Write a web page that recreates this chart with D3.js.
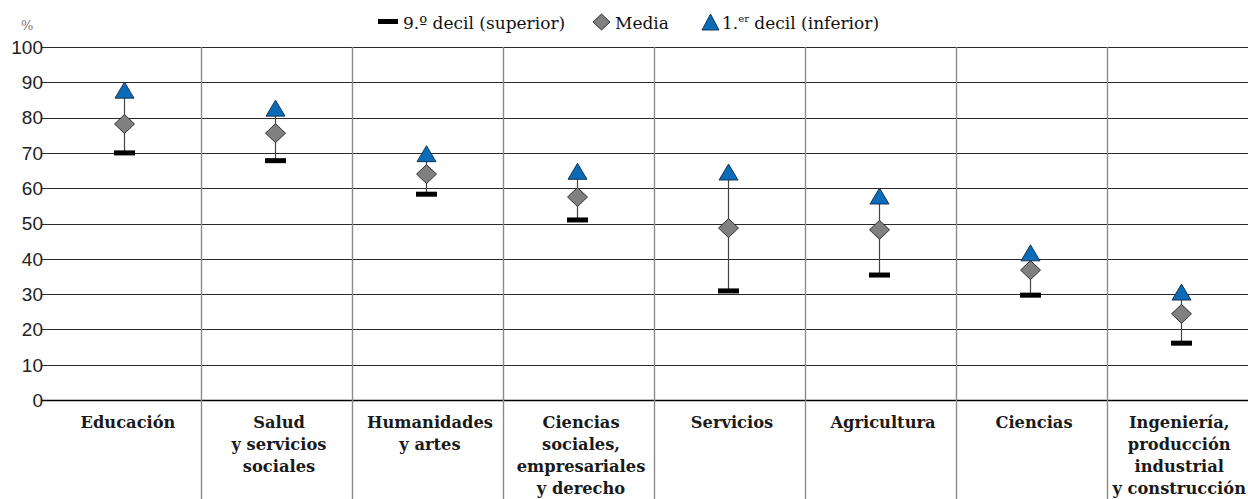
<!DOCTYPE html>
<html><head><meta charset="utf-8">
<script src="https://cdn.jsdelivr.net/npm/d3@7"></script>
<style>body{margin:0;background:#fff;}svg{display:block;}</style>
</head><body><svg id="c" width="1248" height="499"></svg>
<script>
const categories = [
  ["Educación"],
  ["Salud","y servicios","sociales"],
  ["Humanidades","y artes"],
  ["Ciencias","sociales,","empresariales","y derecho"],
  ["Servicios"],
  ["Agricultura"],
  ["Ciencias"],
  ["Ingeniería,","producción","industrial","y construcción"]
];
const decil9 = [70, 67.8, 58.3, 51, 30.9, 35.4, 29.7, 16.1];
const media  = [78.2, 75.6, 64, 57.5, 48.7, 48.2, 36.8, 24.4];
const decil1 = [87.5, 82.4, 69.5, 64.5, 64.3, 57.5, 41.4, 30.3];
const yTicks = [0,10,20,30,40,50,60,70,80,90,100];

const svg = d3.select("#c");
const x = d3.scaleBand().domain(d3.range(categories.length)).range([50, 1258]).padding(0);
const y = d3.scaleLinear().domain([0,100]).range([400, 47]);

// horizontal grid
svg.append("g").selectAll("line").data(yTicks).join("line")
  .attr("x1", 42).attr("x2", 1248)
  .attr("y1", d => Math.round(y(d))+0.5).attr("y2", d => Math.round(y(d))+0.5)
  .attr("stroke", d => d===0 ? "#000" : "#2a2a2a").attr("stroke-width", d => d===0?1.5:1.2);
// vertical separators
svg.append("g").selectAll("line").data(d3.range(1, categories.length)).join("line")
  .attr("x1", i => Math.round(x(i))+0.5).attr("x2", i => Math.round(x(i))+0.5)
  .attr("y1", 47).attr("y2", 499)
  .attr("stroke", "#8a8a8a").attr("stroke-width", 1.4);
// y tick labels
svg.append("g").selectAll("text").data(yTicks).join("text")
  .attr("x", 43).attr("y", d => y(d)).attr("dy", "0.36em")
  .attr("text-anchor", "end").attr("font-family", "Liberation Sans, Arial, sans-serif")
  .attr("font-size", 19).attr("fill", "#222").text(d => d);
svg.append("text").attr("x", 21).attr("y", 30).attr("font-family", "DejaVu Serif, serif")
  .attr("font-size", 13).attr("fill", "#777").text("%");

// category labels
const lab = svg.append("g").selectAll("text").data(categories).join("text")
  .attr("text-anchor", "middle").attr("font-family", "DejaVu Serif, serif")
  .attr("font-weight", "bold").attr("font-size", 16.3).attr("fill", "#1a1a1a");
lab.each(function(lines, i){
  const t = d3.select(this);
  const spans = t.selectAll("tspan").data(lines).join("tspan")
    .attr("y", (d,j) => 428 + j*22).text(d => d);
  let cxl = x(i) + x.bandwidth()/2 + 2.5;
  let maxW = 0;
  spans.each(function(){ maxW = Math.max(maxW, this.getComputedTextLength()); });
  if (cxl + maxW/2 > 1246) cxl = 1246 - maxW/2;
  spans.attr("x", cxl);
});

const cx = i => Math.round(x(i) + x.bandwidth()/2 - 2) + 0.5;
const g = svg.append("g");
// stems
g.selectAll("line.stem").data(categories).join("line").attr("class","stem")
  .attr("x1", (d,i) => cx(i)).attr("x2", (d,i) => cx(i))
  .attr("y1", (d,i) => y(decil9[i])).attr("y2", (d,i) => y(decil1[i]))
  .attr("stroke", "#444").attr("stroke-width", 1.2);
// decil 9 bars
g.selectAll("rect.d9").data(decil9).join("rect").attr("class","d9")
  .attr("x", (d,i) => cx(i) - 10.5).attr("y", d => y(d) - 2.5)
  .attr("width", 21).attr("height", 5).attr("fill", "#000");
// media diamonds
g.selectAll("path.m").data(media).join("path").attr("class","m")
  .attr("d", "M0,-9.5L10,0L0,9.5L-10,0Z")
  .attr("transform", (d,i) => `translate(${cx(i)},${y(d)})`)
  .attr("fill", "#808080").attr("stroke", "#222").attr("stroke-width", 0.9);
// decil 1 triangles
g.selectAll("path.t").data(decil1).join("path").attr("class","t")
  .attr("d", "M0,-9L9.5,7L-9.5,7Z")
  .attr("transform", (d,i) => `translate(${cx(i)},${y(d)})`)
  .attr("fill", "#0a6bb8").attr("stroke", "#0b2a4a").attr("stroke-width", 0.9);

// legend
const L = svg.append("g").attr("font-family", "DejaVu Serif, serif").attr("font-size", 17).attr("fill", "#111");
L.append("rect").attr("x", 378).attr("y", 19).attr("width", 20).attr("height", 5).attr("fill", "#000");
L.append("text").attr("x", 403).attr("y", 29).text("9.º decil (superior)");
L.append("path").attr("d", "M0,-8L8.5,0L0,8L-8.5,0Z").attr("transform", "translate(601.5,22)")
  .attr("fill", "#808080").attr("stroke", "#222").attr("stroke-width", 0.9);
L.append("text").attr("x", 615).attr("y", 29).text("Media");
L.append("path").attr("d", "M0,-8L8.5,8L-8.5,8Z").attr("transform", "translate(710.5,22)")
  .attr("fill", "#0a6bb8").attr("stroke", "#0b2a4a").attr("stroke-width", 0.9);
const t1 = L.append("text").attr("x", 722).attr("y", 29);
t1.append("tspan").text("1.");
t1.append("tspan").attr("font-size", 10).attr("dy", -7).text("er");
t1.append("tspan").attr("dy", 7).text(" decil (inferior)");
</script></body></html>
